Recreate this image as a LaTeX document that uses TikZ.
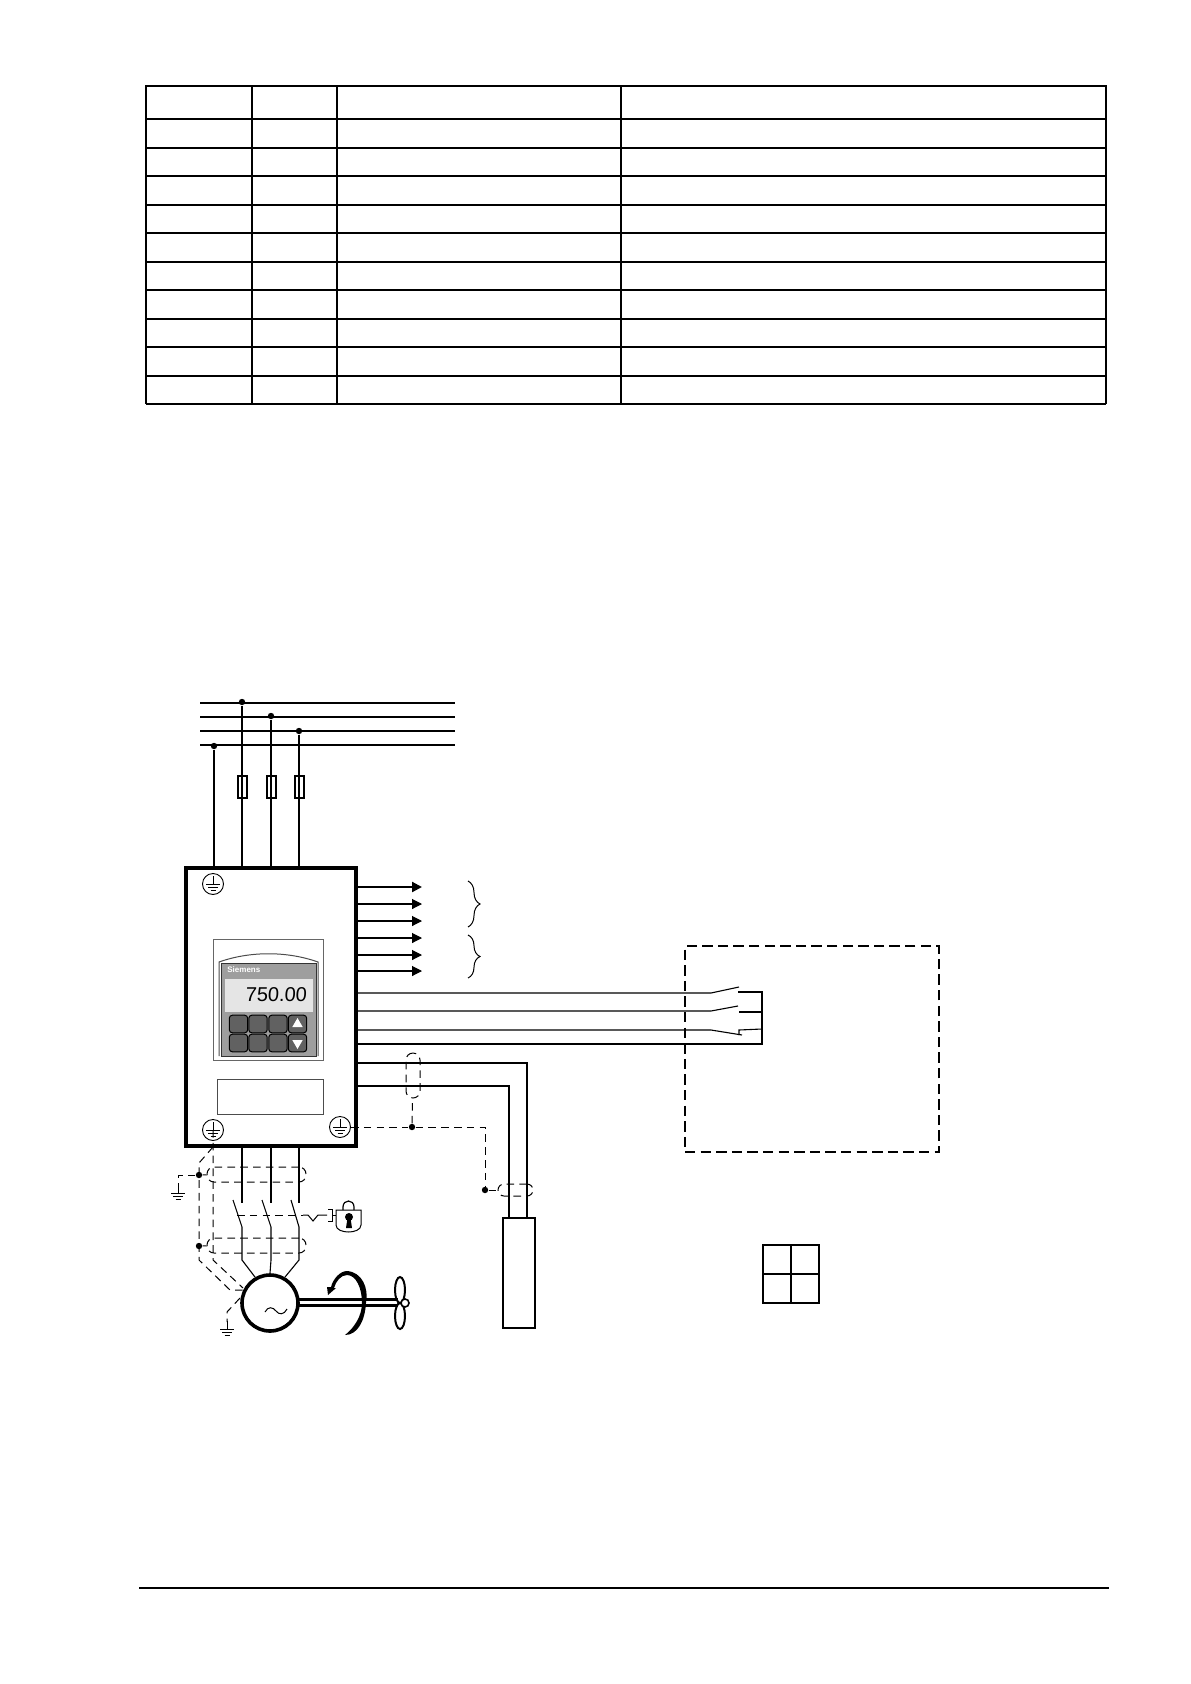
\documentclass[tikz,border=0pt]{standalone}
\usepackage{fontspec}
\setmainfont{Liberation Sans}
\newfontfamily\lcdfont[FakeSlant=0.06]{Liberation Sans}
\usetikzlibrary{arrows.meta,shapes.geometric,decorations.pathreplacing}
\tikzset{
  wire/.style={line width=0.55pt},
  heavy/.style={line width=1.4pt},
  shielddash/.style={line width=0.5pt,dash pattern=on 3.8pt off 2.6pt},
  feed/.style={wire,-{Triangle[length=5pt,width=5pt]}},
  joint/.style={circle,fill=black,inner sep=0pt,minimum size=3.2pt},
  fusebox/.style={rectangle,draw,line width=1pt,minimum width=4.5pt,minimum height=11pt,inner sep=0pt},
  shieldoval/.style={rectangle,draw,shielddash,rounded corners=3.5pt,inner sep=0pt},
  plainbox/.style={rectangle,draw,wire,inner sep=0pt},
  keybtn/.style={rectangle,draw=black,line width=0.5pt,fill=black!62,rounded corners=1.5pt,minimum width=9.2pt,minimum height=8.8pt,inner sep=0pt},
  keymark/.style={regular polygon,regular polygon sides=3,fill=white,inner sep=0pt,minimum size=6pt},
  earthbars/.pic={
    \draw[line width=0.45pt] (0,-8) -- (0,0);
    \draw[line width=0.45pt] (-7,0) -- (7,0) (-5,3) -- (5,3) (-2.5,6) -- (2.5,6);
  },
  earthmark/.pic={
    \draw[line width=0.45pt] (0,0) circle (10.5);
    \pic at (0,0) {earthbars};
  }
}
\begin{document}
\begin{tikzpicture}[x=0.5pt,y=-0.5pt]
  \useasboundingbox (0,0) rectangle (1190,1684);
  % table
  \draw[heavy] (146,86) -- (1106,86);
  \foreach \rowy in {148,205,262,319,376}
    \draw[heavy] (146,\rowy) -- (1106,\rowy);
  \foreach \rowy in {119,176,233,290,347}
    \draw[wire] (146,\rowy) -- (1106,\rowy);
  \draw[line width=0.8pt] (146,404) -- (1106,404);
  \draw[heavy] (146,85.5) -- (146,404.5);
  \draw[heavy] (621,85.5) -- (621,404.5);
  \draw[heavy] (1106,85.5) -- (1106,404.5);
  \draw[wire] (252,86) -- (252,404);
  \draw[wire] (337,86) -- (337,404);
  % mains
  \foreach \busname/\busy in {busa/703,busb/717,busc/731,busd/745} {
    \coordinate (\busname w) at (200,\busy);
    \coordinate (\busname e) at (455,\busy);
    \draw[wire] (\busname w) -- (\busname e);
  }
  \node[joint] (dotpe) at (214,746) {};
  \node[joint] (dota) at (242,702) {};
  \node[joint] (dotb) at (271,716) {};
  \node[joint] (dotc) at (299,731) {};
  \node[fusebox] (fusea) at (242,787) {};
  \node[fusebox] (fuseb) at (271,787) {};
  \node[fusebox] (fusec) at (299,787) {};
  % inverter
  \node[rectangle,draw,line width=1.7pt,minimum width=85pt,minimum height=139pt,inner sep=0pt] (inverter) at (271,1007) {};
  \draw[wire] (dotpe) -- (dotpe |- inverter.north);
  \draw[wire] (dota) -- (fusea.north) (fusea.south) -- (fusea |- inverter.north);
  \draw[wire] (dotb) -- (fuseb.north) (fuseb.south) -- (fuseb |- inverter.north);
  \draw[wire] (dotc) -- (fusec.north) (fusec.south) -- (fusec |- inverter.north);
  \draw[wire] (fusea.north) -- (fusea.south);
  \draw[wire] (fuseb.north) -- (fuseb.south);
  \draw[wire] (fusec.north) -- (fusec.south);
  \pic at (213,884) {earthmark};
  \pic at (213,1130) {earthmark};
  \pic at (340,1127) {earthmark};
  \coordinate (gndl) at (213,1130);
  \coordinate (gndr) at (351,1127);
  % operator panel
  \draw[line width=0.5pt,draw=black!60] (213,1060) -- (213,939) -- (323,939) -- (323,1060) -- cycle;
  \draw[line width=0.5pt,draw=black!70] (219,1056) -- (219,962) .. controls (250,951) and (287,951) .. (318,962) -- (318,1056);
  \node[rectangle,draw=black!80,fill=black!38,line width=0.4pt,minimum width=47.5pt,minimum height=46.5pt,inner sep=0pt] (panel) at (268.5,1009.5) {};
  \node[rectangle,fill=black!10,minimum width=44pt,minimum height=16.5pt,inner sep=0pt] (display) at (269,995.5) {};
  \node[anchor=west,inner sep=0pt,text=white] (brand) at (227,970) {\fontsize{4}{5}\selectfont\bfseries Siemens};
  \node[anchor=east,inner sep=0pt] (readout) at (307,995) {\lcdfont\fontsize{10}{12}\selectfont 750.00};
  \foreach \colno/\keyx in {1/238.5,2/258,3/278,4/297.5}
    \foreach \rowno/\keyy in {1/1024,2/1043}
      \node[keybtn] (key\colno\rowno) at (\keyx,\keyy) {};
  \node[keymark] (keyup) at (key41) {};
  \node[keymark,shape border rotate=180] (keydown) at (key42) {};
  \node[rectangle,draw=black!70,line width=0.5pt,minimum width=53pt,minimum height=17.5pt,inner sep=0pt] (labelbox) at (270,1096.5) {};
  % outputs on the right
  \coordinate (outa) at (422,887);
  \coordinate (outb) at (422,904);
  \coordinate (outc) at (422,921);
  \coordinate (outd) at (422,938);
  \coordinate (oute) at (422,955);
  \coordinate (outf) at (422,971);
  \draw[feed,line width=1.1pt] (outa -| inverter.east) -- (outa);
  \foreach \outname in {outb,outc,outd,oute,outf}
    \draw[feed] (\outname -| inverter.east) -- (\outname);
  \draw[line width=0.5pt,decorate,decoration={brace,amplitude=6pt}] (468,881) -- (468,927);
  \draw[line width=0.5pt,decorate,decoration={brace,amplitude=6pt}] (468,935) -- (468,978);
  % control box with contacts
  \node[rectangle,draw,line width=1.3pt,dash pattern=on 5.2pt off 2.6pt,minimum width=127pt,minimum height=103pt,inner sep=0pt] (ctrlbox) at (812,1049) {};
  \coordinate (swa) at (711,993);
  \coordinate (swb) at (711,1011);
  \coordinate (swc) at (711,1030);
  \coordinate (common) at (762,1044);
  \draw[wire] (swa -| inverter.east) -- (swa) -- (739,987);
  \draw[wire] (swb -| inverter.east) -- (swb) -- (738,1006);
  \draw[wire] (swc -| inverter.east) -- (swc) -- (742,1035);
  \draw[wire] (common -| inverter.east) -- (common) -- (762,992) -- (738,992);
  \draw[wire] (739,1012) -- (762,1012);
  \draw[wire] (739,1035) -- (739,1030) -- (762,1029);
  % encoder cable
  \node[plainbox,minimum width=16pt,minimum height=55pt] (encoder) at (519,1273) {};
  \coordinate (cabin) at (527,1063);
  \coordinate (cabout) at (509,1086);
  \draw[wire] (cabin -| inverter.east) -- (cabin) -- (cabin |- encoder.north);
  \draw[wire] (cabout -| inverter.east) -- (cabout) -- (cabout |- encoder.north);
  \node[shieldoval,minimum width=7pt,minimum height=22.5pt] (shieldtop) at (413,1075.5) {};
  \node[shieldoval,minimum width=17.5pt,minimum height=6pt,rounded corners=3pt] (shieldenc) at (515.5,1190) {};
  \node[joint] (dotshield) at (412,1127) {};
  \node[joint] (dotenc) at (485,1190) {};
  \draw[shielddash] (gndr) -- (dotshield) -- (485,1127) -- (dotenc) -- (shieldenc);
  \draw[shielddash] (dotshield) -- (shieldtop);
  % motor and its feed
  \node[circle,draw,line width=1.8pt,minimum size=28pt,inner sep=0pt] (motor) at (270,1303) {};
  \draw[line width=0.5pt] (265,1312) .. controls (268,1306) and (273,1307) .. (276,1311) .. controls (279,1315) and (284,1315) .. (287,1309);
  \foreach \poleno/\polex in {1/242,2/271,3/299}
    \coordinate (pole\poleno) at (\polex,1203);
  \draw[wire] (pole1 |- inverter.south) -- (pole1);
  \draw[wire] (pole2 |- inverter.south) -- (pole2);
  \draw[wire] (pole3 |- inverter.south) -- (pole3);
  \draw[wire] (233,1200) -- (242,1227) -- (242,1260) -- (motor.120);
  \draw[wire] (262,1200) -- (271,1227) -- (271,1260) -- (motor.north);
  \draw[wire] (291,1200) -- (299,1227) -- (299,1260) -- (motor.60);
  \node[shieldoval,minimum width=49.5pt,minimum height=7.5pt] (shieldup) at (256.5,1174.5) {};
  \node[shieldoval,minimum width=49.5pt,minimum height=7.5pt] (shieldlo) at (256.5,1245.5) {};
  \node[joint] (dotup) at (199,1175) {};
  \node[joint] (dotlo) at (199,1246) {};
  \coordinate (gndtap) at (178,1188);
  \coordinate (gndmot) at (227,1322);
  \draw[shielddash] (dotup) -- (shieldup);
  \draw[shielddash] (dotlo) -- (shieldlo);
  \draw[shielddash] (dotup) -- (178,1175) -- (gndtap);
  \draw[shielddash] (gndl) -- (213,1260) -- (243,1288);
  \draw[shielddash] (213,1147) -- (199,1163) -- (199,1260) -- (230,1290) -- (243,1290);
  \draw[shielddash] (240,1298) -- (227,1312) -- (gndmot);
  \pic at (178,1193) {earthbars};
  \pic at (227,1329) {earthbars};
  % interlock and padlock
  \draw[shielddash] (237,1215) -- (303,1215);
  \draw[line width=0.5pt] (303,1215) -- (308,1215) -- (313,1221) -- (318,1215) -- (327,1215);
  \draw[line width=0.5pt] (328,1209) -- (332,1209) -- (332,1221) -- (328,1221);
  \draw[line width=0.5pt] (332,1215) -- (336,1215);
  \draw[line width=0.5pt] (336,1210) -- (361,1210) -- (361,1225) .. controls (361,1230) and (354,1232) .. (348.5,1232) .. controls (343,1232) and (336,1230) .. (336,1225) -- cycle;
  \draw[line width=0.6pt] (343,1210) -- (343,1207) .. controls (343,1199) and (354,1199) .. (354,1207) -- (354,1210);
  \node[circle,fill=black,inner sep=0pt,minimum size=4pt] (lockhole) at (349,1217) {};
  \fill (347.5,1218) -- (350.5,1218) -- (352,1228) -- (346,1228) -- cycle;
  % shaft, rotation sense and fan
  \draw[line width=1.5pt] (298,1299.5) -- (398,1299.5);
  \draw[line width=1.5pt] (298,1305.5) -- (398,1305.5);
  \fill (347,1271) .. controls (362,1272) and (369,1288) .. (366,1303) .. controls (365,1320) and (358,1335) .. (345,1335)
    .. controls (354,1328) and (362,1316) .. (362,1303) .. controls (362,1288) and (356,1275) .. (347,1275)
    .. controls (341,1275) and (336,1281) .. (334,1288) -- (336,1288) -- (328,1295) -- (327,1287) -- (331,1287)
    .. controls (333,1279) and (340,1271) .. (347,1271) -- cycle;
  \node[ellipse,draw,line width=1pt,minimum width=5pt,minimum height=13pt,inner sep=0pt] (bladeup) at (400,1290) {};
  \node[ellipse,draw,line width=1pt,minimum width=5pt,minimum height=13pt,inner sep=0pt] (bladelo) at (400,1316) {};
  \node[circle,draw,fill=white,line width=0.8pt,minimum size=4pt,inner sep=0pt] (fanhub) at (405,1303) {};
  % the small square
  \node[plainbox,minimum width=28pt,minimum height=29pt] (grid) at (791,1274) {};
  \draw[wire] (grid.north) -- (grid.south);
  \draw[wire] (grid.west) -- (grid.east);
  % footer rule
  \coordinate (rulew) at (139,1588);
  \coordinate (rulee) at (1109,1588);
  \draw[wire] (rulew) -- (rulee);
\end{tikzpicture}
\end{document}
